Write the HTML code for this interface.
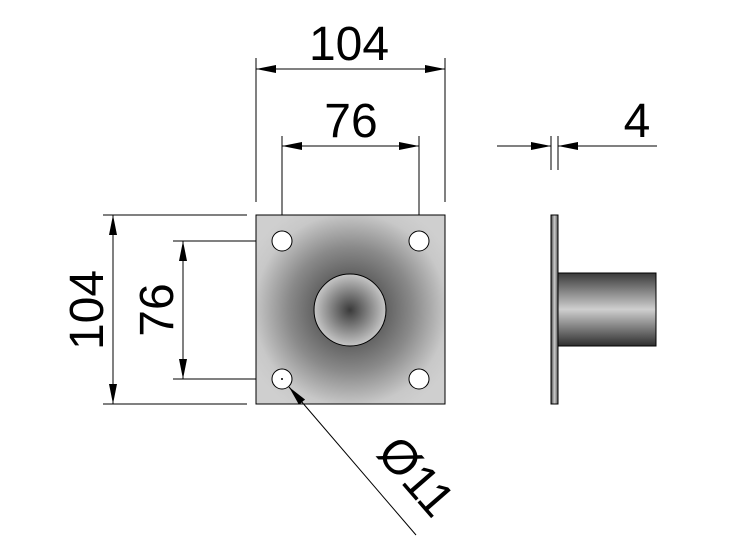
<!DOCTYPE html>
<html><head><meta charset="utf-8"><style>html,body{margin:0;padding:0;background:#fff}svg{display:block}</style></head>
<body>
<svg width="750" height="550" viewBox="0 0 750 550" xmlns="http://www.w3.org/2000/svg" font-family="Liberation Sans, sans-serif">
<defs>
<radialGradient id="pg" cx="0.5" cy="0.5" r="0.6">
<stop offset="0" stop-color="#2e2e2e"/><stop offset="0.55" stop-color="#8a8a8a"/><stop offset="0.85" stop-color="#c8c8c8"/><stop offset="1" stop-color="#cfcfcf"/></radialGradient>
<radialGradient id="cg" cx="0.5" cy="0.5" r="0.5">
<stop offset="0" stop-color="#3a3a3a"/><stop offset="1" stop-color="#c6c6c6"/></radialGradient>
<linearGradient id="tg" x1="0" y1="0" x2="0" y2="1">
<stop offset="0" stop-color="#3a3a3a"/><stop offset="0.5" stop-color="#cfcfcf"/><stop offset="1" stop-color="#2e2e2e"/></linearGradient>
<linearGradient id="sg" x1="0" y1="0" x2="1" y2="0">
<stop offset="0" stop-color="#444"/><stop offset="0.5" stop-color="#ccc"/><stop offset="1" stop-color="#555"/></linearGradient>
<marker id="a" viewBox="0 0 20 8" refX="20" refY="4" markerWidth="20" markerHeight="8" markerUnits="userSpaceOnUse" orient="auto-start-reverse"><path d="M0,0L20,4L0,8z" fill="#000"/></marker>
</defs>
<g stroke="#000" stroke-width="1" fill="none">
<line x1="256" y1="58" x2="256" y2="202"/><line x1="445" y1="58" x2="445" y2="202"/>
<line x1="282" y1="136" x2="282" y2="232"/><line x1="419" y1="136" x2="419" y2="232"/>
<line x1="256" y1="69" x2="445" y2="69" marker-start="url(#a)" marker-end="url(#a)"/>
<line x1="282" y1="146" x2="419" y2="146" marker-start="url(#a)" marker-end="url(#a)"/>
<line x1="103" y1="215" x2="247" y2="215"/><line x1="103" y1="404" x2="247" y2="404"/>
<line x1="173" y1="241" x2="273" y2="241"/><line x1="173" y1="379" x2="273" y2="379"/>
<line x1="113" y1="215" x2="113" y2="404" marker-start="url(#a)" marker-end="url(#a)"/>
<line x1="183" y1="241" x2="183" y2="379" marker-start="url(#a)" marker-end="url(#a)"/>
<line x1="551" y1="136" x2="551" y2="170"/><line x1="558" y1="136" x2="558" y2="170"/>
<line x1="497" y1="146" x2="551" y2="146" marker-end="url(#a)"/>
<line x1="657" y1="146" x2="558" y2="146" marker-end="url(#a)"/>
</g>
<rect x="256" y="215" width="189" height="189" fill="url(#pg)" stroke="#000"/>
<circle cx="350" cy="310" r="36" fill="url(#cg)" stroke="#000"/>
<g fill="#fff" stroke="#000">
<circle cx="282" cy="241" r="10"/><circle cx="419" cy="241" r="10"/>
<circle cx="282" cy="379" r="10"/><circle cx="419" cy="379" r="10"/>
</g>
<circle cx="282" cy="379" r="1" fill="#000"/>
<line x1="416" y1="535" x2="289" y2="387" stroke="#000" stroke-width="1" marker-end="url(#a)"/>
<rect x="558" y="273" width="98" height="73" fill="url(#tg)" stroke="#000"/>
<rect x="551" y="215" width="7" height="189" fill="url(#sg)" stroke="#000"/>
<g font-size="48" fill="#000" text-anchor="middle">
<text x="349" y="60">104</text>
<text x="351" y="137">76</text>
<text x="637" y="137">4</text>
<text transform="translate(103,310) rotate(-90)">104</text>
<text transform="translate(173,310) rotate(-90)">76</text>
<text transform="translate(404,487) rotate(49)">Ø11</text>
</g>
</svg>
</body></html>
